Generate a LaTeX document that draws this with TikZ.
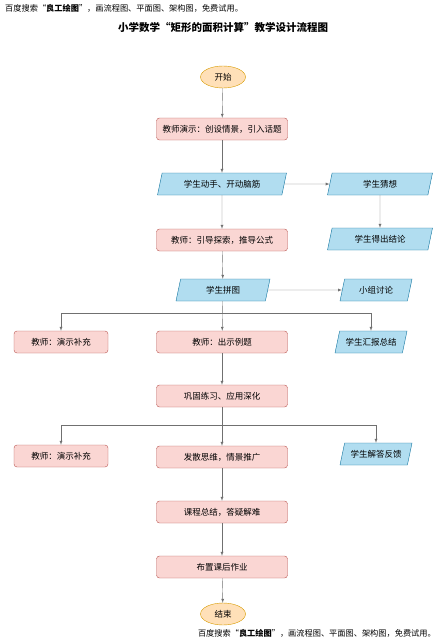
\documentclass[tikz,border=0pt]{standalone}
\usepackage{fontspec}
\setmainfont{Noto Sans CJK SC}
\usetikzlibrary{shapes.geometric,arrows}
\definecolor{taskfill}{HTML}{FAD6D3}
\definecolor{taskline}{HTML}{B85450}
\definecolor{stufill}{HTML}{B1DDF0}
\definecolor{stuline}{HTML}{10739E}
\definecolor{endfill}{HTML}{FFE0B8}
\definecolor{endline}{HTML}{D79B00}
\definecolor{linegray}{HTML}{707070}

\begin{document}
\begin{tikzpicture}[x=1pt,y=-1pt,>=latex]
		\useasboundingbox (0,0) rectangle (439,642);
		\tikzstyle{every edge}=[draw,color=linegray]
		\tikzstyle{task}=[rectangle,rounded corners=3pt,draw=taskline,fill=taskfill,minimum width=131pt,minimum height=22pt,inner sep=1pt,font=\fontsize{8.5}{9}\selectfont]
		\tikzstyle{stu}=[trapezium,trapezium left angle=65,trapezium right angle=115,trapezium stretches body,draw=stuline,fill=stufill,minimum width=129pt,minimum height=22pt,inner sep=1pt,font=\fontsize{8.5}{9}\selectfont]
		\tikzstyle{term}=[ellipse,draw=endline,fill=endfill,minimum width=45pt,minimum height=22pt,inner sep=0pt,font=\fontsize{8.5}{9}\selectfont]
		\tikzstyle{note}=[inner sep=0pt,font=\fontsize{8.2}{9}\selectfont]

		\node (ad) at (5,8) [note,anchor=west] {百度搜索“\textbf{良工绘图}”，画流程图、平面图、架构图，免费试用。};
		\node (title) at (223,27) [font=\fontsize{10.5}{11}\selectfont\bfseries] {小学数学“矩形的面积计算”教学设计流程图};

		\node (start) at (223,77) [term] {开始};
		\node (intro) at (222,129) [task] {教师演示：创设情景，引入话题};
		\node (hands) at (222,184) [stu] {学生动手、开动脑筋};
		\node (guess) at (380,184) [stu,minimum width=105pt] {学生猜想};
		\node (guide) at (222,240) [task] {教师：引导探索，推导公式};
		\node (concl) at (380,239) [stu,minimum width=105pt] {学生得出结论};
		\node (puzzle) at (223,290) [stu,minimum width=94pt] {学生拼图};
		\node (group) at (376,290) [stu,minimum width=72pt] {小组讨论};
		\coordinate (fork1) at (223,313);
		\node (demoa) at (61,342) [task,minimum width=94pt] {教师：演示补充};
		\node (example) at (222,342) [task] {教师：出示例题};
		\node (report) at (371,342) [stu,minimum width=72pt] {学生汇报总结};
		\node (practice) at (222,396) [task] {巩固练习、应用深化};
		\coordinate (fork2) at (223,425);
		\node (demob) at (61,456) [task,minimum width=94pt] {教师：演示补充};
		\node (spread) at (222,457) [task] {发散思维，情景推广};
		\node (answer) at (376,454) [stu,minimum width=72pt] {学生解答反馈};
		\node (summary) at (222,512) [task] {课程总结，答疑解难};
		\node (homework) at (222,567) [task] {布置课后作业};
		\node (finish) at (223,614) [term] {结束};
		\node (ad2) at (436,633) [note,anchor=east] {百度搜索“\textbf{良工绘图}”，画流程图、平面图、架构图，免费试用。};

		\path [->] (start) edge (intro);
		\path [->] (intro) edge (hands);
		\path [->] (hands) edge (guess);
		\path [->] (guess) edge (concl);
		\path [->] (hands) edge (guide);
		\path [->] (guide) edge (puzzle);
		\path [->] (puzzle) edge (group);
		\path [->] (puzzle) edge (example);
		\draw [->,linegray] (fork1) -| (demoa);
		\draw [->,linegray] (fork1) -| (report);
		\path [->] (example) edge (practice);
		\path [->] (practice) edge (spread);
		\draw [->,linegray] (fork2) -| (demob);
		\draw [->,linegray] (fork2) -| (answer);
		\path [->] (spread) edge (summary);
		\path [->] (summary) edge (homework);
		\path [->] (homework) edge (finish);
	\end{tikzpicture}
\end{document}
